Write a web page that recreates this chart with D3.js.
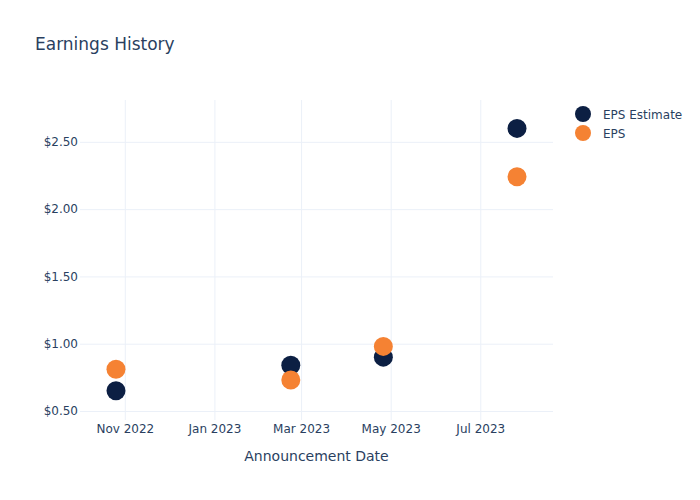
<!DOCTYPE html>
<html>
<head>
<meta charset="utf-8">
<script src="https://cdn.jsdelivr.net/npm/d3@7"></script>
<style>
  body { margin: 0; background: #fff; }
</style>
</head>
<body>
<script>
var dates = ["2022-10-26", "2023-02-22", "2023-04-26", "2023-07-26"];
var epsEstimate = [0.65, 0.84, 0.90, 2.60];
var eps = [0.81, 0.73, 0.98, 2.24];
var yTicks = [0.5, 1.0, 1.5, 2.0, 2.5];
var xTicks = ["2022-11-01", "2023-01-01", "2023-03-01", "2023-05-01", "2023-07-01"];
var seriesNames = ["EPS Estimate", "EPS"];
var seriesColors = ["#0c1f43", "#f58233"];

var WIDTH = 700, HEIGHT = 500;
var FONT = "'DejaVu Sans', Verdana, sans-serif";
var TEXTCOLOR = "#2a3f5f";
var plotLeft = 80, plotRight = 553, plotTop = 100, plotBottom = 420;

var parse = d3.timeParse("%Y-%m-%d");

var svg = d3.select("body")
            .append("svg")
            .attr("width", WIDTH)
            .attr("height", HEIGHT)
            .style("font-family", FONT);

var x = d3.scaleTime()
          .domain([d3.timeHour.offset(parse(dates[0]), -24.5 * 24),
                   d3.timeHour.offset(parse(dates[dates.length - 1]), 24.5 * 24)])
          .range([plotLeft, plotRight]);

var y = d3.scaleLinear()
          .domain([0.433, 2.811])
          .range([plotBottom, plotTop]);

// grid + x ticks
svg.append("g")
   .attr("transform", "translate(0," + plotBottom + ")")
   .call(d3.axisBottom(x)
           .tickValues(xTicks.map(parse))
           .tickSize(-(plotBottom - plotTop))
           .tickFormat(d3.timeFormat("%b %Y"))
           .tickPadding(4))
   .call(function(g) {
     g.select(".domain").remove();
     g.selectAll(".tick line").attr("stroke", "#ebf0f8").attr("stroke-width", 1);
     g.selectAll(".tick text")
      .attr("fill", TEXTCOLOR)
      .style("font-size", "12px")
      .style("font-family", FONT);
   });

// grid + y ticks
svg.append("g")
   .attr("transform", "translate(" + plotLeft + ",0)")
   .call(d3.axisLeft(y)
           .tickValues(yTicks)
           .tickSize(-(plotRight - plotLeft))
           .tickFormat(function(d) { return "$" + d3.format(".2f")(d); })
           .tickPadding(2))
   .call(function(g) {
     g.select(".domain").remove();
     g.selectAll(".tick line").attr("stroke", "#ebf0f8").attr("stroke-width", 1);
     g.selectAll(".tick text")
      .attr("fill", TEXTCOLOR)
      .style("font-size", "12px")
      .style("font-family", FONT);
   });

// points
var allSeries = [epsEstimate, eps];
allSeries.forEach(function(values, i) {
  svg.append("g")
     .selectAll("circle")
     .data(values)
     .enter()
     .append("circle")
     .attr("cx", function(d, j) { return x(parse(dates[j])); })
     .attr("cy", function(d) { return y(d); })
     .attr("r", 9.5)
     .style("fill", seriesColors[i]);
});

// title
svg.append("text")
   .attr("x", 35)
   .attr("y", 50)
   .attr("fill", TEXTCOLOR)
   .style("font-size", "17px")
   .text("Earnings History");

// axis title
svg.append("text")
   .attr("x", (plotLeft + plotRight) / 2)
   .attr("y", 461)
   .attr("text-anchor", "middle")
   .attr("fill", TEXTCOLOR)
   .style("font-size", "14px")
   .text("Announcement Date");

// legend
var legend = svg.append("g")
                .attr("transform", "translate(583,114)");
seriesNames.forEach(function(name, i) {
  legend.append("circle")
        .attr("cx", 0)
        .attr("cy", i * 19)
        .attr("r", 8)
        .style("fill", seriesColors[i]);
  legend.append("text")
        .attr("x", 20)
        .attr("y", i * 19 + 4.5)
        .attr("fill", TEXTCOLOR)
        .style("font-size", "12px")
        .text(name);
});
</script>
</body>
</html>
